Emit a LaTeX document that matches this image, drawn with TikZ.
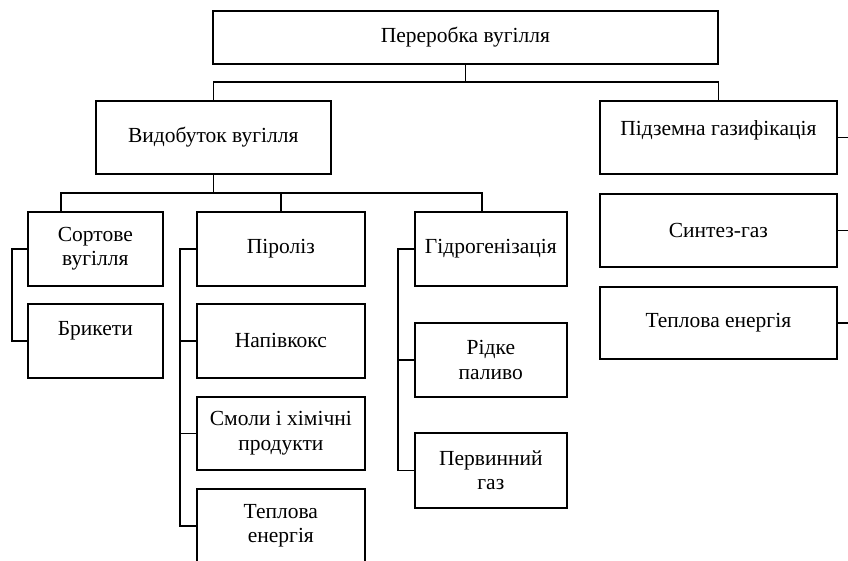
\documentclass[tikz,border=0pt]{standalone}
\usepackage{fontspec}
\setmainfont{Liberation Serif}
\begin{document}
\begin{tikzpicture}[x=1pt,y=-1pt,
  txt/.style={font=\fontsize{21.5}{24.5}\selectfont},
  box/.style={draw, line width=1.7pt, rectangle, anchor=north west, inner sep=0pt,
    align=center, txt},
  conn/.style={line width=1.7pt}]
\useasboundingbox (0,0) rectangle (848,560);
\clip (0,0) rectangle (848,560);
% boxes
\node[box, minimum width=505pt, minimum height=53pt] (top) at (212,10) {Переробка вугілля};
\node[box, minimum width=235pt, minimum height=73pt] (vyd) at (95,100) {Видобуток вугілля};
\node[box, minimum width=237pt, minimum height=73pt, label={[yshift=7pt, txt]center:Підземна газифікація}] (pidz) at (599,100) {};
\node[box, minimum width=237pt, minimum height=73pt] (synt) at (599,193) {Синтез-газ};
\node[box, minimum width=237pt, minimum height=72pt] (tepR) at (599,286) {Теплова енергія};
\node[box, minimum width=135pt, minimum height=74pt] (sort) at (27,211) {Сортове\\вугілля};
\node[box, minimum width=135pt, minimum height=74pt, label={[yshift=10pt, txt]center:Брикети}] (bryk) at (27,303) {};
\node[box, minimum width=168pt, minimum height=74pt] (pir) at (196,211) {Піроліз};
\node[box, minimum width=168pt, minimum height=74pt] (napiv) at (196,303) {Напівкокс};
\node[box, minimum width=168pt, minimum height=73pt] (smoly) at (196,396) {Смоли і хімічні\\продукти};
\node[box, minimum width=168pt, minimum height=74pt] (tepL) at (196,488) {Теплова\\енергія};
\node[box, minimum width=152pt, minimum height=74pt] (gidro) at (414,211) {Гідрогенізація};
\node[box, minimum width=152pt, minimum height=74pt] (ridke) at (414,322) {Рідке\\паливо};
\node[box, minimum width=152pt, minimum height=75pt] (perv) at (414,432) {Первинний\\газ};
% level 1
\draw[conn] (vyd.north) -- ++(0,-18) coordinate (a) -| (pidz.north);
\draw[conn] (top.south) -- (top.south |- a);
% level 2
\draw[conn] ([xshift=34pt]sort.north west) -- ++(0,-18) coordinate (b) -| ([xshift=68pt]gidro.north west);
\draw[conn] (vyd.south) -- (vyd.south |- b);
\draw[conn] (pir.north) -- (pir.north |- b);
% brackets
\draw[conn] (sort.west) -- ++(-15,0) |- (bryk.west);
\draw[conn] (pir.west) -- ++(-16,0) coordinate (c) |- (tepL.west);
\draw[conn] (napiv.west) -- (napiv.west -| c);
\draw[conn] (smoly.west) -- (smoly.west -| c);
\draw[conn] (gidro.west) -- ++(-16,0) coordinate (d) |- (perv.west);
\draw[conn] (ridke.west) -- (ridke.west -| d);
% right side stubs
\coordinate (r) at (852,0);
\draw[conn] (pidz.east) -- (pidz.east -| r);
\draw[conn] (synt.east) -- (synt.east -| r);
\draw[conn] (tepR.east) -- (tepR.east -| r);
\end{tikzpicture}
\end{document}
